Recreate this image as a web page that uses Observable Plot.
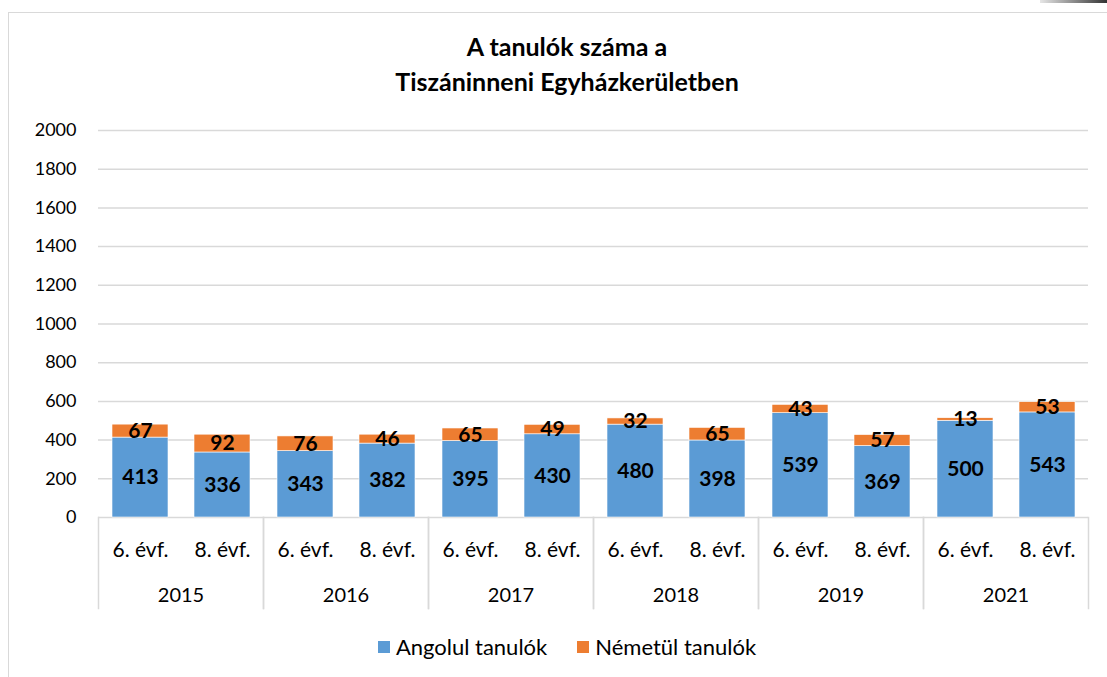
<!DOCTYPE html>
<html><head><meta charset="utf-8">
<script src="https://cdn.jsdelivr.net/npm/d3@7"></script>
<script src="https://cdn.jsdelivr.net/npm/@observablehq/plot@0.6"></script>
<style>
html,body{margin:0;padding:0;background:#fff;}
body{width:1107px;height:677px;position:relative;overflow:hidden;font-family:Lato,"Open Sans",sans-serif;color:#000;}
#frame{position:absolute;left:8px;top:12px;width:1130px;height:700px;border-left:1.5px solid #d9d9d9;border-top:1.5px solid #d9d9d9;}
#shadow{position:absolute;left:1040px;top:0;width:67px;height:3px;background:linear-gradient(to right,#e6e6e6,#333);}
#title{position:absolute;left:8px;width:1118px;top:29px;text-align:center;font-weight:bold;font-size:25px;line-height:35px;}
#chart{position:absolute;left:0;top:110px;}
#legend{position:absolute;left:8px;width:1118px;top:632px;text-align:center;font-size:22px;line-height:26px;}
.item{display:inline-flex;align-items:center;margin:0 15px;}
.sw{width:12px;height:12px;margin-right:6px;display:inline-block;}
</style></head>
<body>
<div id="frame"></div>
<div id="shadow"></div>
<div id="title">A tanulók száma a<br>Tiszáninneni Egyházkerületben</div>
<div id="chart"></div>
<div id="legend"></div>
<script>
const years = ["2015","2016","2017","2018","2019","2021"];
const grades = ["6. évf.","8. évf."];
const seriesNames = ["Angolul tanulók","Németül tanulók"];
const colors = ["#5B9BD5","#ED7D31"];
const angol = [413,336,343,382,395,430,480,398,539,369,500,543];
const nemet = [67,92,76,46,65,49,32,65,43,57,13,53];
const yTicks = [0,200,400,600,800,1000,1200,1400,1600,1800,2000];

const rows = [];
[angol, nemet].forEach((vals, s) => {
  vals.forEach((v, i) => {
    rows.push({year: years[Math.floor(i/2)], grade: grades[i%2], series: seriesNames[s], value: v});
  });
});

const gridColor = "#d9d9d9";
const chart = Plot.plot({
  width: 1107,
  height: 520,
  marginLeft: 97,
  marginRight: 18,
  marginTop: 20,
  marginBottom: 113,
  style: {fontFamily: "Lato, 'Open Sans', sans-serif", fontSize: "19px", color: "#000", background: "transparent", overflow: "visible"},
  fx: {domain: years, padding: 0, axis: null},
  x: {domain: grades, paddingInner: 0.32, paddingOuter: 0.16, axis: null},
  y: {domain: [0, 2000], axis: null},
  color: {domain: seriesNames, range: colors},
  marks: [
    Plot.ruleY(yTicks, {stroke: gridColor, strokeWidth: 1.5}),
    Plot.frame({anchor: "left", stroke: gridColor, strokeWidth: 1.5, insetTop: 387, insetBottom: -91}),
    Plot.frame({anchor: "right", stroke: gridColor, strokeWidth: 1.5, insetTop: 387, insetBottom: -91}),
    Plot.barY(rows, Plot.stackY({fx: "year", x: "grade", y: "value", z: "series", fill: "series", stroke: "white", strokeWidth: 0.6})),
    Plot.text(rows, Plot.stackY({fx: "year", x: "grade", y: "value", z: "series", text: d => String(d.value), fontWeight: "bold", fontSize: 21, fill: "black"})),
    Plot.axisY(yTicks, {anchor: "left", tickSize: 0, tickPadding: 22, fontSize: 18, tickFormat: d => String(d), label: null, facetAnchor: "left"}),
    Plot.axisX({anchor: "bottom", tickSize: 0, tickPadding: 25, fontSize: 21, label: null}),
    Plot.axisFx({anchor: "bottom", tickSize: 0, tickPadding: 70, fontSize: 20, label: null})
  ]
});
document.getElementById("chart").appendChild(chart);

const legend = document.getElementById("legend");
seriesNames.forEach((name, i) => {
  const item = document.createElement("span");
  item.className = "item";
  const sw = document.createElement("span");
  sw.className = "sw";
  sw.style.background = colors[i];
  item.appendChild(sw);
  item.appendChild(document.createTextNode(name));
  legend.appendChild(item);
});
</script>
</body></html>
